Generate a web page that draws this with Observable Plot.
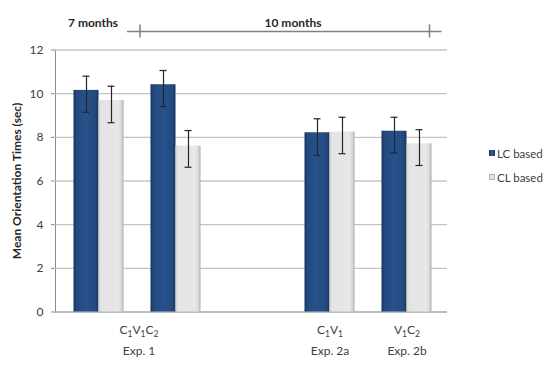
<!DOCTYPE html>
<html><head><meta charset="utf-8">
<script src="https://cdn.jsdelivr.net/npm/d3@7"></script>
<script src="https://cdn.jsdelivr.net/npm/@observablehq/plot@0.6"></script>
<style>
body{margin:0;background:#fff;}
#wrap{position:relative;width:548px;height:365px;font-family:Lato,sans-serif;}
#legend{position:absolute;left:489px;top:141px;font-size:11.5px;color:#404040;}
.item{display:flex;align-items:center;height:24px;white-space:nowrap;}
.sw{width:6px;height:6px;margin-right:2px;box-sizing:border-box;}
g[aria-label^="y-axis"] text{fill:#404040;}
</style></head><body><div id="wrap"></div>
<script>
// ---- data ----
const slots = ["Exp1-7m", "Exp1-10m", "gap", "Exp2a", "Exp2b"];
const barSlots = ["Exp1-7m", "Exp1-10m", "Exp2a", "Exp2b"];
const lcMean = [10.15, 10.41, 8.21, 8.28];
const lcLow  = [9.15, 9.41, 7.17, 7.29];
const lcHigh = [10.80, 11.06, 8.85, 8.92];
const clMean = [9.69, 7.60, 8.24, 7.70];
const clLow  = [8.67, 6.63, 7.25, 6.71];
const clHigh = [10.34, 8.31, 8.92, 8.35];
const yTicks = [0, 2, 4, 6, 8, 10, 12];
const seriesNames = ["LC based", "CL based"];
const catSlots = ["Exp1-7m", "Exp2a", "Exp2b"];
const catLabels = ["C₁V₁C₂", "C₁V₁", "V₁C₂"];
const expLabels = ["Exp. 1", "Exp. 2a", "Exp. 2b"];
const ageLabels = ["7 months", "10 months"];
const yLabel = "Mean Orientation Times (sec)";
const bracketY = 12.85;

const lc = barSlots.map((s, i) => ({slot: s, mean: lcMean[i], lo: lcLow[i], hi: lcHigh[i]}));
const cl = barSlots.map((s, i) => ({slot: s, mean: clMean[i], lo: clLow[i], hi: clHigh[i]}));

const txt = "#404040", dark = "#262626", bw = 12.5;
const errMarks = (d, dx) => [
  Plot.ruleX(d, {x: "slot", y1: "lo", y2: "hi", dx, stroke: "#262626", strokeWidth: 1.2}),
  Plot.tickY(d, {x: "slot", y: "lo", dx, insetLeft: 9, insetRight: 9, stroke: "#262626", strokeWidth: 1.2}),
  Plot.tickY(d, {x: "slot", y: "hi", dx, insetLeft: 9, insetRight: 9, stroke: "#262626", strokeWidth: 1.2})
];

const chart = Plot.plot({
  width: 548, height: 365,
  marginLeft: 55, marginRight: 101, marginTop: 49.5, marginBottom: 53.5,
  style: {fontFamily: "Lato, sans-serif", fontSize: "12px", color: "#8c8c8c", background: "#fff", overflow: "visible"},
  x: {domain: slots, range: [57, 447], paddingInner: 0.679, paddingOuter: 0.3397, axis: null},
  y: {domain: [0, 12], ticks: yTicks, tickSize: 4, tickPadding: 8, line: true, label: null},
  marks: [
    Plot.ruleY(yTicks.filter(t => t > 0), {stroke: "#c4c4c4", strokeWidth: 1.3}),
    Plot.ruleY([0], {stroke: "#a6a6a6", strokeWidth: 1.3}),
    Plot.barY(lc, {x: "slot", y: "mean", dx: -bw, fill: "url(#gLC)"}),
    Plot.barY(cl, {x: "slot", y: "mean", dx: bw, fill: "url(#gCL)"}),
    ...errMarks(lc, -bw),
    ...errMarks(cl, bw),
    // bottom category labels
    Plot.text([catLabels[0]], {x: [catSlots[0]], text: d => d, dx: 40, frameAnchor: "bottom", dy: 22, fill: txt}),
    Plot.text(catLabels.slice(1), {x: catSlots.slice(1), text: d => d, frameAnchor: "bottom", dy: 22, fill: txt}),
    Plot.text([expLabels[0]], {x: [catSlots[0]], text: d => d, dx: 40, frameAnchor: "bottom", dy: 43, fill: txt}),
    Plot.text(expLabels.slice(1), {x: catSlots.slice(1), text: d => d, frameAnchor: "bottom", dy: 43, fill: txt}),
    // age annotations
    Plot.text([ageLabels[0]], {x: ["Exp1-7m"], text: d => d, frameAnchor: "top", dy: -31.5, dx: -6, fontWeight: "bold", fill: dark}),
    Plot.text([ageLabels[1]], {x: ["gap"], text: d => d, frameAnchor: "top", dy: -31.5, dx: 40, fontWeight: "bold", fill: dark}),
    Plot.ruleY([bracketY], {x1: ["Exp1-7m"], x2: ["Exp2b"], insetLeft: 41, insetRight: -22.5, stroke: "#808080", strokeWidth: 1.5}),
    Plot.ruleX(["Exp1-7m"], {y1: 12.55, y2: 13.15, dx: 41, stroke: "#808080", strokeWidth: 1.5}),
    Plot.ruleX(["Exp2b"], {y1: 12.55, y2: 13.15, dx: 22.5, stroke: "#808080", strokeWidth: 1.5}),
    // y label
    Plot.text([yLabel], {frameAnchor: "left", text: d => d, rotate: -90, dx: -38, textAnchor: "middle", fontWeight: "bold", fontSize: 12, fill: dark})
  ]
});

// render unicode subscript digits as real subscript tspans
const subs = "₀₁₂₃₄₅₆₇₈₉";
const ns = "http://www.w3.org/2000/svg";
chart.querySelectorAll("text").forEach(t => {
  const s = t.textContent;
  if (![...s].some(ch => subs.includes(ch))) return;
  t.textContent = "";
  let shifted = false;
  for (const ch of s) {
    const k = subs.indexOf(ch);
    const ts = document.createElementNS(ns, "tspan");
    if (k >= 0) {
      ts.textContent = String(k);
      ts.setAttribute("font-size", "8.5");
      if (!shifted) { ts.setAttribute("dy", "3"); shifted = true; }
    } else {
      ts.textContent = ch;
      if (shifted) { ts.setAttribute("dy", "-3"); shifted = false; }
    }
    t.appendChild(ts);
  }
});

const defs = document.createElementNS(ns, "defs");
function grad(id, stops) {
  const g = document.createElementNS(ns, "linearGradient");
  g.setAttribute("id", id); g.setAttribute("x1", "0"); g.setAttribute("x2", "1"); g.setAttribute("y1", "0"); g.setAttribute("y2", "0");
  for (const [o, c] of stops) {
    const st = document.createElementNS(ns, "stop");
    st.setAttribute("offset", o); st.setAttribute("stop-color", c);
    g.appendChild(st);
  }
  defs.appendChild(g);
}
grad("gLC", [["0", "#17335c"], ["0.12", "#23497f"], ["0.5", "#28518b"], ["0.88", "#23497f"], ["1", "#17335c"]]);
grad("gCL", [["0", "#cfcfcf"], ["0.1", "#e4e4e4"], ["0.8", "#e7e7e7"], ["0.92", "#d6d6d6"], ["1", "#ababab"]]);
chart.insertBefore(defs, chart.firstChild);

const wrap = document.getElementById("wrap");
wrap.appendChild(chart);
const legend = document.createElement("div");
legend.id = "legend";
const swatches = [
  "background:linear-gradient(90deg,#17335c,#2f5fa0,#17335c);",
  "background:#e4e4e4;border:1px solid #b0b0b0;"
];
seriesNames.forEach((n, i) => {
  const it = document.createElement("div"); it.className = "item";
  const sw = document.createElement("div"); sw.className = "sw"; sw.style.cssText = swatches[i];
  const t = document.createElement("span"); t.textContent = n;
  it.appendChild(sw); it.appendChild(t); legend.appendChild(it);
});
wrap.appendChild(legend);
</script>
</body></html>
